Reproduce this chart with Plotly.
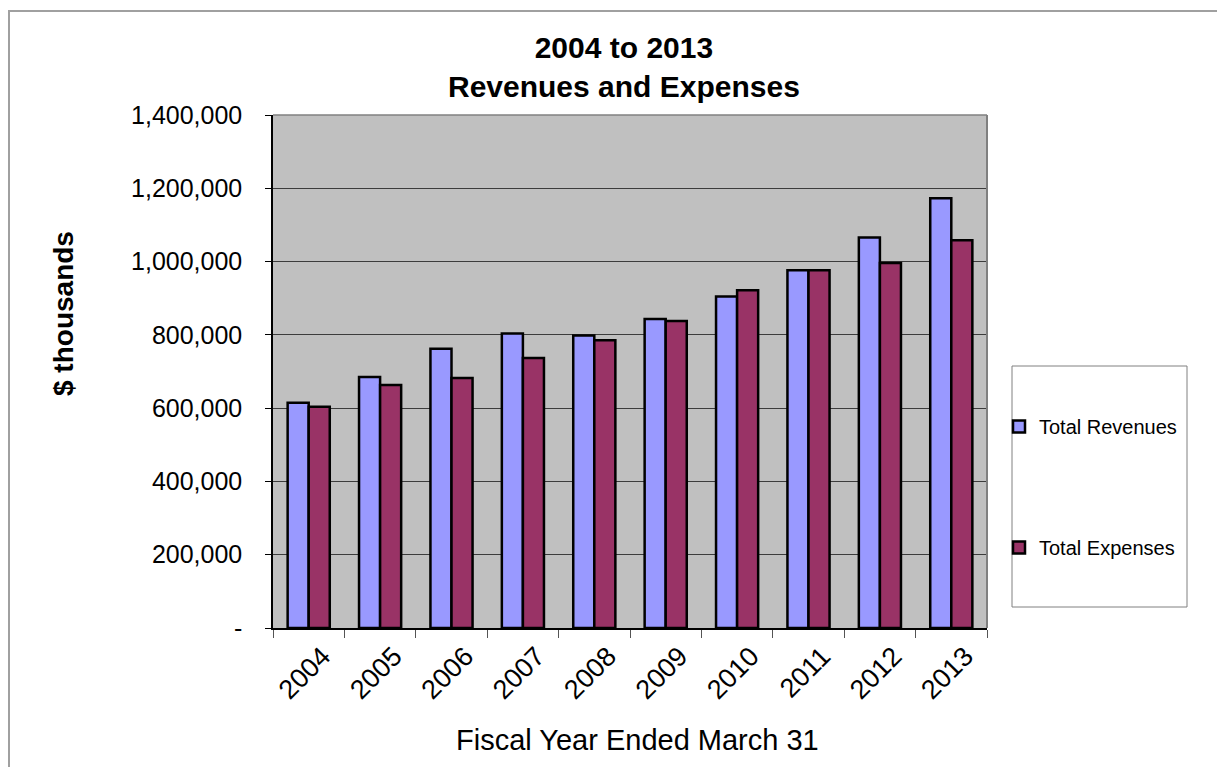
import plotly.graph_objects as go

years = ["2004", "2005", "2006", "2007", "2008", "2009", "2010", "2011", "2012", "2013"]
revenues = [615000, 685000, 762000, 804000, 798000, 843000, 905000, 976000, 1066000, 1173000]
expenses = [604000, 663000, 682000, 737000, 785000, 838000, 922000, 976000, 996000, 1058000]
y_tick_vals = [0, 200000, 400000, 600000, 800000, 1000000, 1200000, 1400000]
y_tick_text = ["-", "200,000", "400,000", "600,000", "800,000", "1,000,000", "1,200,000", "1,400,000"]

FONT = "Liberation Sans, Arial, sans-serif"
W, H = 1217, 767
L, R, T, B = 273, 230, 115, 139
PW, PH = W - L - R, H - T - B

def px(x):
    return (x - L) / PW

def py(y):
    return (H - B - y) / PH

fig = go.Figure()
fig.add_trace(go.Bar(x=years, y=revenues, name="Total Revenues", legendgroup="a",
                     marker=dict(color="#9999FF", line=dict(color="black", width=2.5))))
fig.add_trace(go.Bar(x=years, y=expenses, name="Total Expenses", legendgroup="b",
                     marker=dict(color="#993366", line=dict(color="black", width=2.5))))

fig.update_layout(
    width=W, height=H,
    margin=dict(l=L, r=R, t=T, b=B, pad=0),
    paper_bgcolor="white",
    plot_bgcolor="#C0C0C0",
    barmode="group", bargap=0.41, bargroupgap=0,
    font=dict(family=FONT, color="black"),
    showlegend=True,
    legend=dict(x=px(999), y=py(407), xanchor="left", yanchor="top",
                bgcolor="rgba(0,0,0,0)", borderwidth=0,
                font=dict(size=20, family=FONT), itemwidth=30,
                tracegroupgap=92, traceorder="grouped"),
)

fig.update_xaxes(
    type="category", showgrid=False,
    showline=True, linecolor="black", linewidth=1.5,
    ticks="outside", tickson="boundaries", ticklen=8, tickcolor="#555", tickwidth=1,
    tickangle=-45, tickfont=dict(size=27, family=FONT),
    ticklabelshift=14,
)
fig.update_yaxes(
    range=[0, 1400000], tickvals=y_tick_vals, ticktext=y_tick_text,
    showgrid=True, gridcolor="#3c3c3c", gridwidth=1,
    showline=True, linecolor="black", linewidth=1.5,
    ticks="outside", ticklen=6, tickcolor="black",
    tickfont=dict(size=25, family=FONT), ticklabelstandoff=18,
    zeroline=False,
)

shapes = [
    # outer chart border (top and left visible)
    dict(type="rect", xref="paper", yref="paper", x0=px(9), y0=py(900), x1=px(1400), y1=py(11),
         line=dict(color="#A0A0A0", width=2), layer="below"),
    # plot area border right/top
    dict(type="line", xref="paper", yref="paper", x0=1, x1=1, y0=0, y1=1,
         line=dict(color="#808080", width=2)),
    dict(type="line", xref="paper", yref="paper", x0=0, x1=1, y0=1, y1=1,
         line=dict(color="#808080", width=1.5)),
    # legend box
    dict(type="rect", xref="paper", yref="paper", x0=px(1012), y0=py(607), x1=px(1187), y1=py(366),
         line=dict(color="#808080", width=1), fillcolor="white", layer="below"),
]
fig.update_layout(shapes=shapes)

annotations = [
    dict(text="<b>2004 to 2013<br>Revenues and Expenses</b>", xref="paper", yref="paper",
         x=px(624), y=py(67), xanchor="center", yanchor="middle", showarrow=False,
         font=dict(size=30, family=FONT)),
    dict(text="<b>$ thousands</b>", xref="paper", yref="paper", textangle=-90,
         x=px(63), y=py(314), xanchor="center", yanchor="middle", showarrow=False,
         font=dict(size=28, family=FONT)),
    dict(text="Fiscal Year Ended March 31", xref="paper", yref="paper",
         x=px(637), y=py(740), xanchor="center", yanchor="middle", showarrow=False,
         font=dict(size=29, family=FONT)),
]
fig.update_layout(annotations=annotations)

fig.write_html("out.html")
